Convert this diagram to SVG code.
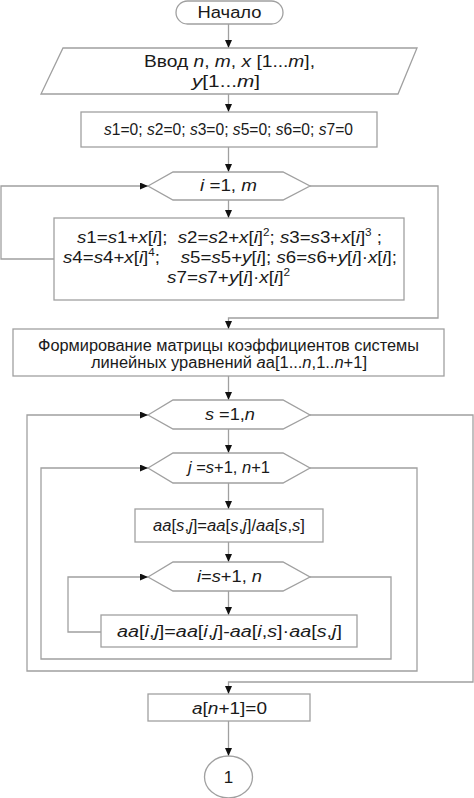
<svg xmlns="http://www.w3.org/2000/svg" width="474" height="798" viewBox="0 0 474 798">
<style>
.t{font-family:"Liberation Sans",Arial,sans-serif;font-size:16px;fill:#1a1a1a;text-anchor:middle}
.v{font-style:italic}
.sup{font-size:10px}
.b{fill:#fff;stroke:#a0a0a0;stroke-width:1.3}
.c{fill:none;stroke:#a0a0a0;stroke-width:1.3}
</style>
<defs>
<marker id="ah" viewBox="0 0 8 7" refX="8" refY="3.5" markerWidth="8" markerHeight="7" markerUnits="userSpaceOnUse" orient="auto"><path d="M0,0L8,3.5L0,7z" fill="#111"/></marker>
</defs>
<rect width="474" height="798" fill="#fff"/>
<g id="connectors">
<path class="c" d="M228.5,24V48" marker-end="url(#ah)"/>
<path class="c" d="M228.5,94V112" marker-end="url(#ah)"/>
<path class="c" d="M228.5,147V172" marker-end="url(#ah)"/>
<path class="c" d="M228.5,200V218" marker-end="url(#ah)"/>
<path class="c" d="M54,259H1V186H148" marker-end="url(#ah)"/>
<path class="c" d="M310,186H438V318H228.5V329" marker-end="url(#ah)"/>
<path class="c" d="M228.5,376V400" marker-end="url(#ah)"/>
<path class="c" d="M228.5,429V453" marker-end="url(#ah)"/>
<path class="c" d="M228.5,483V509" marker-end="url(#ah)"/>
<path class="c" d="M228.5,542V562" marker-end="url(#ah)"/>
<path class="c" d="M228.5,591V615" marker-end="url(#ah)"/>
<path class="c" d="M101,632H68V577H148" marker-end="url(#ah)"/>
<path class="c" d="M310,577H391V659H41V468H148" marker-end="url(#ah)"/>
<path class="c" d="M310,468H417V671H27V415H148" marker-end="url(#ah)"/>
<path class="c" d="M310,415H473V682H228.5V694" marker-end="url(#ah)"/>
<path class="c" d="M228.5,721V756" marker-end="url(#ah)"/>
</g>
<g id="start">
<rect class="b" x="176" y="1" width="107" height="23" rx="11.5"/>
<text class="t" x="229.5" y="18" textLength="64" lengthAdjust="spacingAndGlyphs">Начало</text>
</g>
<g id="input">
<polygon class="b" points="63,48 417,48 398,94 41,94"/>
<text class="t" x="229.5" y="67" textLength="171" lengthAdjust="spacingAndGlyphs">Ввод <tspan class="v">n</tspan>, <tspan class="v">m</tspan>, <tspan class="v">x</tspan> [1...<tspan class="v">m</tspan>],</text>
<text class="t" x="226" y="87" textLength="68" lengthAdjust="spacingAndGlyphs"><tspan class="v">y</tspan>[1...<tspan class="v">m</tspan>]</text>
</g>
<g id="init">
<rect class="b" x="81" y="112" width="296" height="35"/>
<text class="t" x="228.5" y="135" textLength="249" lengthAdjust="spacingAndGlyphs"><tspan class="v">s</tspan>1=0; <tspan class="v">s</tspan>2=0; <tspan class="v">s</tspan>3=0; <tspan class="v">s</tspan>5=0; <tspan class="v">s</tspan>6=0; <tspan class="v">s</tspan>7=0</text>
</g>
<g id="loop-i1">
<polygon class="b" points="148,186 173,172 283,172 310,186 283,200 173,200"/>
<text class="t" x="228.5" y="191" textLength="57" lengthAdjust="spacingAndGlyphs"><tspan class="v">i</tspan> =1, <tspan class="v">m</tspan></text>
</g>
<g id="sums">
<rect class="b" x="54" y="218" width="350" height="82"/>
<text class="t" x="229.5" y="243" textLength="305" lengthAdjust="spacingAndGlyphs"><tspan class="v">s</tspan>1=<tspan class="v">s</tspan>1+<tspan class="v">x</tspan>[<tspan class="v">i</tspan>]; &#160;<tspan class="v">s</tspan>2=<tspan class="v">s</tspan>2+<tspan class="v">x</tspan>[<tspan class="v">i</tspan>]<tspan class="sup" dy="-7">2</tspan><tspan dy="7">; </tspan><tspan class="v">s</tspan>3=<tspan class="v">s</tspan>3+<tspan class="v">x</tspan>[<tspan class="v">i</tspan>]<tspan class="sup" dy="-7">3</tspan><tspan dy="7"> ;</tspan></text>
<text class="t" x="230" y="263" textLength="334" lengthAdjust="spacingAndGlyphs"><tspan class="v">s</tspan>4=<tspan class="v">s</tspan>4+<tspan class="v">x</tspan>[<tspan class="v">i</tspan>]<tspan class="sup" dy="-7">4</tspan><tspan dy="7">;&#160;&#160;&#160; </tspan><tspan class="v">s</tspan>5=<tspan class="v">s</tspan>5+<tspan class="v">y</tspan>[<tspan class="v">i</tspan>]; <tspan class="v">s</tspan>6=<tspan class="v">s</tspan>6+<tspan class="v">y</tspan>[<tspan class="v">i</tspan>]·<tspan class="v">x</tspan>[<tspan class="v">i</tspan>];</text>
<text class="t" x="228.5" y="283" textLength="123" lengthAdjust="spacingAndGlyphs"><tspan class="v">s</tspan>7=<tspan class="v">s</tspan>7+<tspan class="v">y</tspan>[<tspan class="v">i</tspan>]·<tspan class="v">x</tspan>[<tspan class="v">i</tspan>]<tspan class="sup" dy="-7">2</tspan></text>
</g>
<g id="matrix">
<rect class="b" x="13" y="329" width="431" height="47"/>
<text class="t" x="228.5" y="351" textLength="381" lengthAdjust="spacingAndGlyphs">Формирование матрицы коэффициентов системы</text>
<text class="t" x="229" y="368" textLength="276" lengthAdjust="spacingAndGlyphs">линейных уравнений <tspan class="v">a</tspan>a[1...<tspan class="v">n</tspan>,1..<tspan class="v">n</tspan>+1]</text>
</g>
<g id="loop-s">
<polygon class="b" points="148,415 173,400 283,400 310,415 283,429 173,429"/>
<text class="t" x="230" y="420" textLength="50" lengthAdjust="spacingAndGlyphs"><tspan class="v">s</tspan> =1,<tspan class="v">n</tspan></text>
</g>
<g id="loop-j">
<polygon class="b" points="148,468 173,453 283,453 310,468 283,483 173,483"/>
<text class="t" x="229" y="473" textLength="82" lengthAdjust="spacingAndGlyphs"><tspan class="v">j</tspan> =<tspan class="v">s</tspan>+1, <tspan class="v">n</tspan>+1</text>
</g>
<g id="normalize">
<rect class="b" x="135" y="509" width="188" height="33"/>
<text class="t" x="229" y="531" textLength="152" lengthAdjust="spacingAndGlyphs"><tspan class="v">aa</tspan>[<tspan class="v">s</tspan>,<tspan class="v">j</tspan>]=<tspan class="v">aa</tspan>[<tspan class="v">s</tspan>,<tspan class="v">j</tspan>]/<tspan class="v">aa</tspan>[<tspan class="v">s</tspan>,<tspan class="v">s</tspan>]</text>
</g>
<g id="loop-i2">
<polygon class="b" points="148,577 173,562 283,562 310,577 283,591 173,591"/>
<text class="t" x="229.5" y="582" textLength="65" lengthAdjust="spacingAndGlyphs"><tspan class="v">i</tspan>=<tspan class="v">s</tspan>+1, <tspan class="v">n</tspan></text>
</g>
<g id="eliminate">
<rect class="b" x="101" y="615" width="256" height="32"/>
<text class="t" x="229.5" y="637" textLength="225" lengthAdjust="spacingAndGlyphs"><tspan class="v">aa</tspan>[<tspan class="v">i</tspan>,<tspan class="v">j</tspan>]=<tspan class="v">aa</tspan>[<tspan class="v">i</tspan>,<tspan class="v">j</tspan>]-<tspan class="v">aa</tspan>[<tspan class="v">i</tspan>,<tspan class="v">s</tspan>]·<tspan class="v">aa</tspan>[<tspan class="v">s</tspan>,<tspan class="v">j</tspan>]</text>
</g>
<g id="assign">
<rect class="b" x="148" y="694" width="162" height="27"/>
<text class="t" x="229.5" y="714" textLength="75" lengthAdjust="spacingAndGlyphs"><tspan class="v">a</tspan>[<tspan class="v">n</tspan>+1]=0</text>
</g>
<g id="connector-1">
<ellipse class="b" cx="228.5" cy="777" rx="24" ry="21"/>
<text class="t" x="228.5" y="783" style="font-size:17px">1</text>
</g>
</svg>
